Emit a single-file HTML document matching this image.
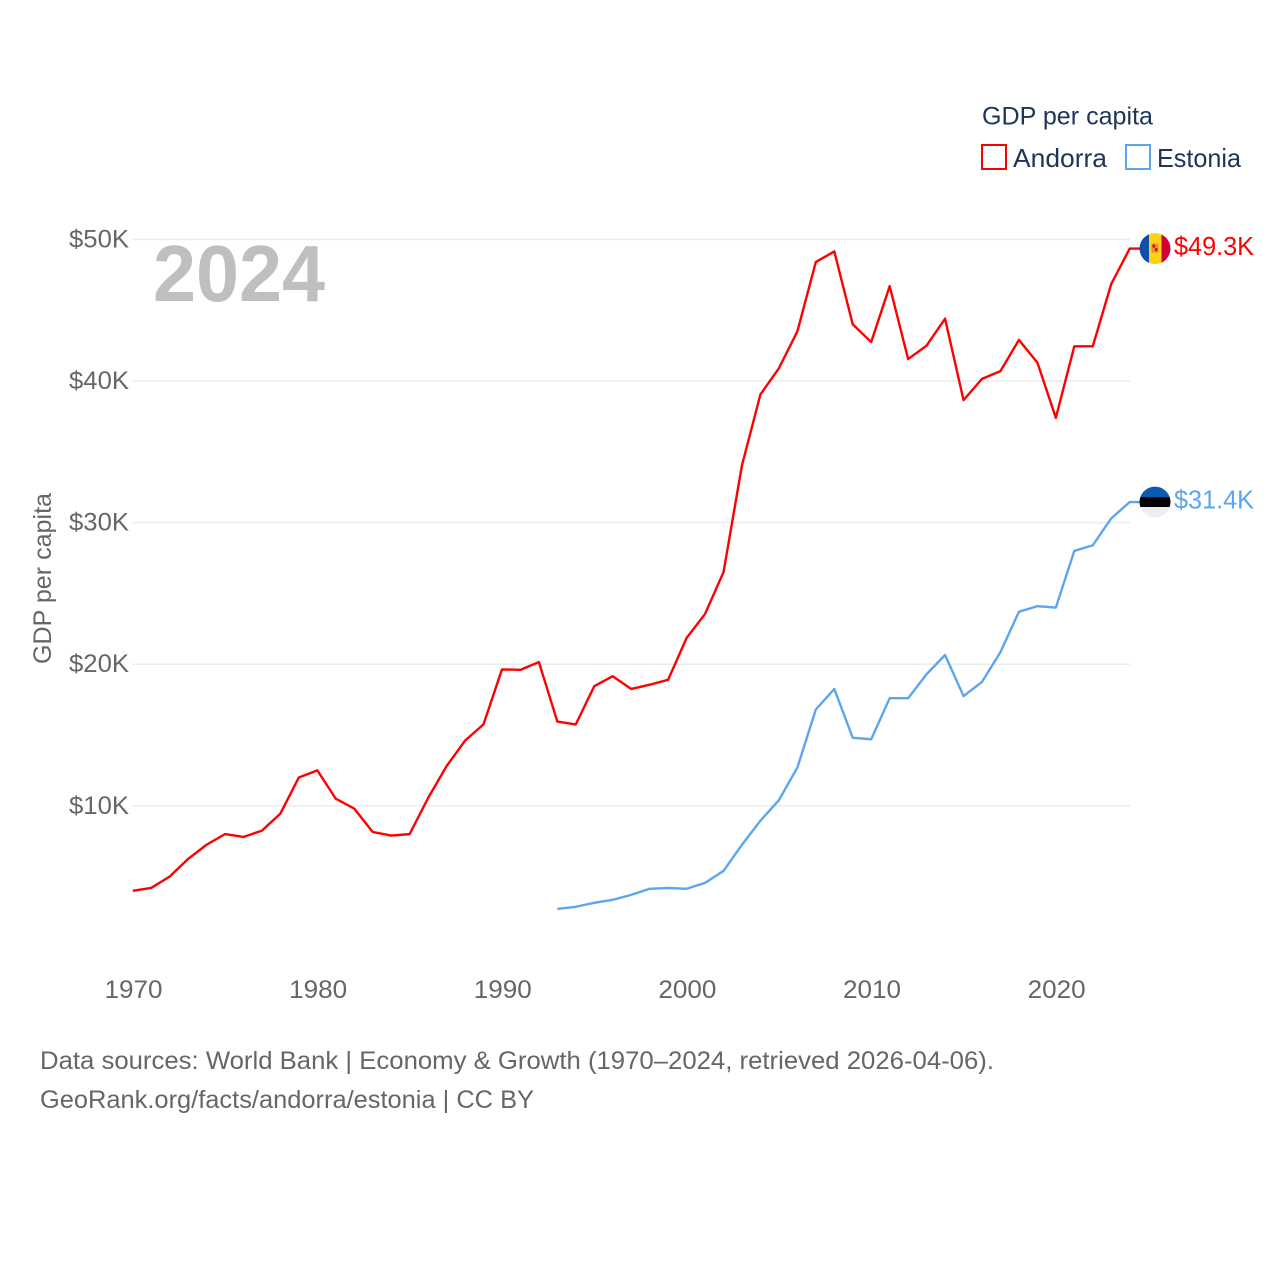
<!DOCTYPE html>
<html lang="en">
<head>
<meta charset="utf-8">
<title>GDP per capita: Andorra and Estonia</title>
<style>
html,body{margin:0;padding:0;background:#fff;}
svg{display:block;font-family:"Liberation Sans",sans-serif;}
</style>
</head>
<body>
<svg id="chart" width="1280" height="1280" viewBox="0 0 1280 1280" xmlns="http://www.w3.org/2000/svg">
  <defs>
    <clipPath id="flag-clip-andorra"><circle id="clip-a" r="15.5"></circle></clipPath>
    <clipPath id="flag-clip-estonia"><circle id="clip-e" r="15.5"></circle></clipPath>
  </defs>
  <g id="grid"></g>
  <g id="yticks"></g>
  <g id="xticks"></g>
  <text x="153" y="301" font-size="80" font-weight="700" fill="#bfbfbf" textLength="172" lengthAdjust="spacingAndGlyphs">2024</text>
  <text transform="translate(51,664) rotate(-90)" font-size="25" fill="#666666" textLength="171" lengthAdjust="spacingAndGlyphs">GDP per capita</text>
  <g id="series"></g>
  <g id="flags"></g>
  <g>
    <text x="982" y="124.5" font-size="25" fill="#1d3557" textLength="171" lengthAdjust="spacingAndGlyphs">GDP per capita</text>
    <rect x="982" y="145" width="24" height="24" fill="#fff" stroke="#ff0000" stroke-width="2"></rect>
    <text x="1013" y="167" font-size="26" fill="#1d3557" textLength="94" lengthAdjust="spacingAndGlyphs">Andorra</text>
    <rect x="1126" y="145" width="24" height="24" fill="#fff" stroke="#5ba6f0" stroke-width="2"></rect>
    <text x="1157" y="167" font-size="26" fill="#1d3557" textLength="84" lengthAdjust="spacingAndGlyphs">Estonia</text>
  </g>
  <g>
    <text x="40" y="1069" font-size="25" fill="#666666" textLength="954" lengthAdjust="spacingAndGlyphs">Data sources: World Bank | Economy &amp; Growth (1970–2024, retrieved 2026-04-06).</text>
    <text x="40" y="1108" font-size="25" fill="#666666" textLength="494" lengthAdjust="spacingAndGlyphs">GeoRank.org/facts/andorra/estonia | CC BY</text>
  </g>
</svg>
<script>
const yTickValues = [10, 20, 30, 40, 50];
const yTickLabels = ['$10K', '$20K', '$30K', '$40K', '$50K'];
const xTickValues = [1970, 1980, 1990, 2000, 2010, 2020];
const xTickLabels = ['1970', '1980', '1990', '2000', '2010', '2020'];
const andorraYears = [1970,1971,1972,1973,1974,1975,1976,1977,1978,1979,1980,1981,1982,1983,1984,1985,1986,1987,1988,1989,1990,1991,1992,1993,1994,1995,1996,1997,1998,1999,2000,2001,2002,2003,2004,2005,2006,2007,2008,2009,2010,2011,2012,2013,2014,2015,2016,2017,2018,2019,2020,2021,2022,2023,2024];
const andorraValues = [4.0,4.2,5.0,6.25,7.25,8.0,7.8,8.25,9.45,12.0,12.5,10.5,9.8,8.15,7.9,8.0,10.55,12.8,14.6,15.75,19.63,19.6,20.15,15.95,15.75,18.45,19.15,18.25,18.55,18.9,21.85,23.55,26.5,34.05,39.05,40.9,43.5,48.4,49.15,44.0,42.75,46.7,41.55,42.5,44.4,38.65,40.15,40.7,42.9,41.3,37.4,42.45,42.45,46.85,49.35];
const estoniaYears = [1993,1994,1995,1996,1997,1998,1999,2000,2001,2002,2003,2004,2005,2006,2007,2008,2009,2010,2011,2012,2013,2014,2015,2016,2017,2018,2019,2020,2021,2022,2023,2024];
const estoniaValues = [2.72,2.87,3.15,3.36,3.71,4.14,4.2,4.14,4.56,5.4,7.25,8.95,10.4,12.7,16.8,18.25,14.8,14.7,17.6,17.6,19.3,20.65,17.75,18.75,20.85,23.7,24.1,24.0,28.0,28.4,30.3,31.45];
const andorraEndLabel = '$49.3K';
const estoniaEndLabel = '$31.4K';

const NS = 'http://www.w3.org/2000/svg';
function xScale(year) { return 132.7 + (year - 1970) * 18.463; }
function yScale(v) { return 947.4 - v * 14.16; }
function make(tag, attrs, parent) {
  const el = document.createElementNS(NS, tag);
  for (const k in attrs) el.setAttribute(k, attrs[k]);
  parent.appendChild(el);
  return el;
}

const grid = document.getElementById('grid');
const yticks = document.getElementById('yticks');
yTickValues.forEach(function (v, i) {
  const line = make('line', {x1: 132, x2: 1130, y1: yScale(v), y2: yScale(v), stroke: '#ececec', 'stroke-width': 1.5}, grid);
  
  
  const t = make('text', {x: 129, y: yScale(v) + 8, 'text-anchor': 'end', 'font-size': 25, fill: '#666666', textLength: 60, lengthAdjust: 'spacingAndGlyphs'}, yticks);
  
  
  t.textContent = yTickLabels[i];
});

const xticks = document.getElementById('xticks');
xTickValues.forEach(function (v, i) {
  const t = make('text', {x: xScale(v) + 0.8, y: 998, 'text-anchor': 'middle', 'font-size': 25, fill: '#666666', textLength: 58, lengthAdjust: 'spacingAndGlyphs'}, xticks);
  
  
  t.textContent = xTickLabels[i];
});

function drawSeries(years, values, color) {
  const pts = years.map(function (y, i) { return xScale(y).toFixed(2) + ',' + yScale(values[i]).toFixed(2); });
  const lastY = yScale(values[values.length - 1]).toFixed(2);
  pts.push('1141,' + lastY);
  return make('polyline', {points: pts.join(' '), fill: 'none', stroke: color, 'stroke-width': 2.4, 'stroke-linejoin': 'round'}, document.getElementById('series'));
}
const andorraLine = drawSeries(andorraYears, andorraValues, '#ff0000');


const estoniaLine = drawSeries(estoniaYears, estoniaValues, '#5ba6f0');



const flags = document.getElementById('flags');
const ay = yScale(andorraValues[andorraValues.length - 1]);
const ey = yScale(estoniaValues[estoniaValues.length - 1]);
const cx = 1155;
document.getElementById('clip-a').setAttribute('cx', cx);
document.getElementById('clip-a').setAttribute('cy', ay);
document.getElementById('clip-e').setAttribute('cx', cx);
document.getElementById('clip-e').setAttribute('cy', ey);

const flagA = make('g', {'clip-path': 'url(#flag-clip-andorra)'}, flags);


make('rect', {x: cx - 16, y: ay - 16, width: 10, height: 32, fill: '#0f4fa8'}, flagA);
make('rect', {x: cx - 6, y: ay - 16, width: 12.5, height: 32, fill: '#fcd116'}, flagA);
make('rect', {x: cx + 6.5, y: ay - 16, width: 9.5, height: 32, fill: '#d50032'}, flagA);
make('rect', {x: cx - 3.5, y: ay - 5, width: 7, height: 9, fill: '#e8932a'}, flagA);
make('rect', {x: cx - 2.5, y: ay - 4, width: 2.5, height: 3, fill: '#c8102e'}, flagA);
make('rect', {x: cx, y: ay - 0.5, width: 2.5, height: 3, fill: '#c8102e'}, flagA);

const flagE = make('g', {'clip-path': 'url(#flag-clip-estonia)'}, flags);


make('rect', {x: cx - 16, y: ey - 16, width: 32, height: 11, fill: '#0a5cb0'}, flagE);
make('rect', {x: cx - 16, y: ey - 5, width: 32, height: 10, fill: '#000000'}, flagE);
make('rect', {x: cx - 16, y: ey + 5, width: 32, height: 11, fill: '#eeeeee'}, flagE);

const endA = make('text', {x: 1174, y: ay + 6.5, 'font-size': 26, fill: '#ff0000', textLength: 80, lengthAdjust: 'spacingAndGlyphs'}, flags);


endA.textContent = andorraEndLabel;
const endE = make('text', {x: 1174, y: ey + 6.5, 'font-size': 26, fill: '#5ba6f0', textLength: 80, lengthAdjust: 'spacingAndGlyphs'}, flags);


endE.textContent = estoniaEndLabel;
</script>
</body>
</html>
